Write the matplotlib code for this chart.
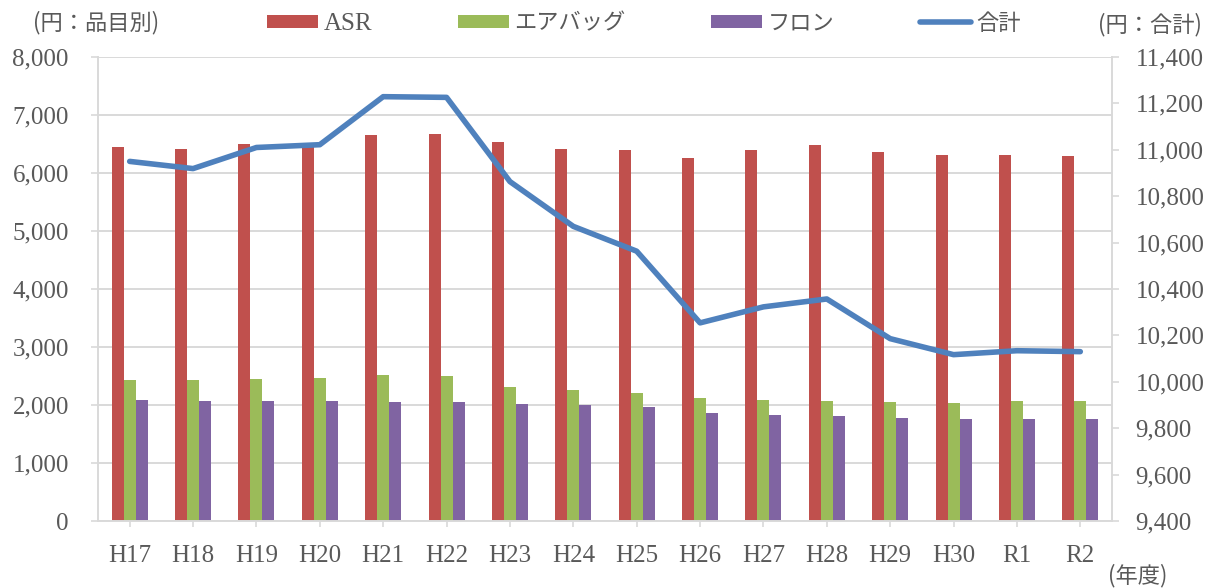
"""品目別・合計の推移（棒＋折れ線、2軸）。"""

import matplotlib

matplotlib.use("Agg")
import matplotlib.pyplot as plt
import numpy as np

years = ["H17", "H18", "H19", "H20", "H21", "H22", "H23", "H24",
         "H25", "H26", "H27", "H28", "H29", "H30", "R1", "R2"]
asr = [6440, 6420, 6495, 6480, 6655, 6675, 6535, 6410,
       6390, 6265, 6395, 6480, 6355, 6315, 6315, 6300]
airbag = [2430, 2427, 2450, 2470, 2515, 2495, 2305, 2260,
          2203, 2122, 2088, 2071, 2053, 2042, 2065, 2071]
freon = [2083, 2071, 2071, 2065, 2060, 2060, 2019, 1997,
         1973, 1870, 1835, 1812, 1778, 1761, 1761, 1761]
total = [10950, 10919, 11010, 11022, 11229, 11226, 10863, 10670,
         10563, 10254, 10323, 10357, 10186, 10117, 10134, 10130]

TEXT = "#595959"
GRID = "#D9D9D9"
SERIF = ["Liberation Serif", "DejaVu Serif"]
JP = ["Noto Sans CJK JP", "DejaVu Sans"]

fig = plt.figure(figsize=(12.11, 5.88), dpi=100)
ax = fig.add_axes([98 / 1211, 67 / 588, 1014 / 1211, 464 / 588])
ax2 = ax.twinx()

x = np.arange(len(years))
w = 0.19
ax.bar(x - w, asr, w, color="#C0504D", label="ASR", zorder=2)
ax.bar(x, airbag, w, color="#9BBB59", label="エアバッグ", zorder=2)
ax.bar(x + w, freon, w, color="#8064A2", label="フロン", zorder=2)
ax2.plot(x, total, color="#4F81BD", lw=4, solid_capstyle="round",
         solid_joinstyle="round", label="合計")

ax.set_xlim(-0.5, len(years) - 0.5)
ax.set_ylim(0, 8000)
ax.set_yticks(np.arange(0, 8001, 1000))
ax.set_yticklabels([f"{v:,}" for v in range(0, 8001, 1000)])
ax.set_xticks(x)
ax.set_xticklabels(years)
ax.grid(axis="y", color=GRID, lw=1.4, zorder=0)
ax.set_axisbelow(True)

ax2.set_ylim(9400, 11400)
ax2.set_yticks(np.arange(9400, 11401, 200))
ax2.set_yticklabels([f"{v:,}" for v in range(9400, 11401, 200)])

# 軸線はすべて薄いグレー、上辺なし
for a in (ax, ax2):
    a.spines["top"].set_visible(False)
    for sp in a.spines.values():
        sp.set_color(GRID)
        sp.set_linewidth(1.4)
ax2.spines["left"].set_visible(False)
ax2.spines["bottom"].set_visible(False)
ax.spines["right"].set_visible(False)

ax.tick_params(axis="x", length=4.5, width=1.2, color=GRID, pad=13, labelsize=18, labelcolor=TEXT)
ax.tick_params(axis="y", length=5, width=1.2, color=GRID, pad=16, labelsize=18, labelcolor=TEXT)
ax2.tick_params(axis="y", length=5, width=1.2, color=GRID, pad=12, labelsize=18, labelcolor=TEXT)
for lab in ax.get_xticklabels() + ax.get_yticklabels() + ax2.get_yticklabels():
    lab.set_family(SERIF)

handles = ax.get_legend_handles_labels()[0] + ax2.get_legend_handles_labels()[0]
labels = [h.get_label() for h in handles]
leg = fig.legend(handles, labels, ncol=4, loc="center", bbox_to_anchor=(644 / 1211, 1 - 23 / 588),
                 frameon=False, prop={"family": JP, "size": 16}, handlelength=2.3,
                 handleheight=0.55, handletextpad=0.25, columnspacing=3.85)
for t in leg.get_texts():
    t.set_color(TEXT)
leg.get_texts()[0].set_family(SERIF)
leg.get_texts()[0].set_fontsize(18)

fig.text(33 / 1211, 1 - 23 / 588, "(円：品目別)", family=JP, fontsize=16, color=TEXT,
         ha="left", va="center")
fig.text(1098 / 1211, 1 - 25 / 588, "(円：合計)", family=JP, fontsize=16, color=TEXT,
         ha="left", va="center")
fig.text(1108 / 1211, 1 - 576 / 588, "(年度)", family=JP, fontsize=16, color=TEXT,
         ha="left", va="center")

fig.savefig("out.png", dpi=100)
plt.close(fig)
